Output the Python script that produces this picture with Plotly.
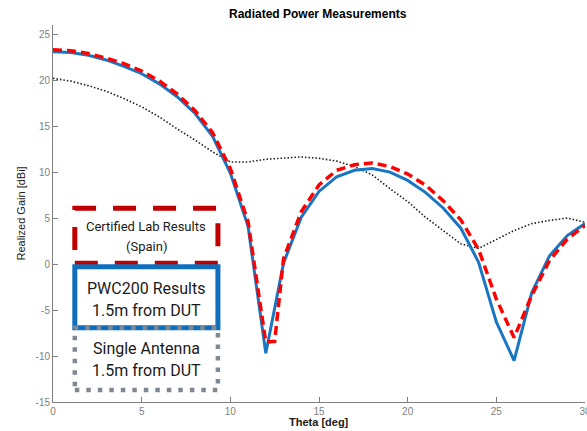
import plotly.graph_objects as go

# ---- data ----
theta_lab = [0, 1, 2, 3, 4, 5, 6, 7, 8, 9, 10, 11, 12, 12.5, 13, 14, 15, 16, 17, 18, 19, 20,
             21, 22, 23, 24, 25, 26, 27, 28, 29, 30]
gain_lab = [23.3, 23.2, 22.9, 22.4, 21.8, 21.0, 19.9, 18.5, 16.7, 14.3, 10.4, 4.6, -8.5, -8.4,
            0.6, 5.7, 8.6, 10.2, 10.8, 11.0, 10.6, 9.8, 8.6, 6.9, 4.8, 1.6, -3.8, -8.0,
            -3.4, 0.4, 2.7, 4.2]

theta_pwc = list(range(0, 31))
gain_pwc = [23.1, 23.0, 22.7, 22.2, 21.5, 20.7, 19.6, 18.2, 16.4, 13.9, 9.9, 4.1, -9.7,
            0.1, 5.1, 7.9, 9.5, 10.2, 10.4, 10.0, 9.1, 7.8, 6.1, 3.9, 0.2, -6.3, -10.5,
            -3.1, 0.9, 3.1, 4.4]

theta_single = list(range(0, 31))
gain_single = [20.2, 19.9, 19.4, 18.8, 18.0, 17.1, 16.0, 14.7, 13.5, 12.2, 11.1, 11.1, 11.4,
               11.55, 11.65, 11.5, 11.2, 10.6, 9.7, 8.2, 6.8, 5.1, 3.65, 2.2, 1.7, 2.7,
               3.65, 4.4, 4.75, 5.0, 4.55]

x_ticks = [0, 5, 10, 15, 20, 25, 30]
y_ticks = [-15, -10, -5, 0, 5, 10, 15, 20, 25]

title = "Radiated Power Measurements"
x_title = "Theta [deg]"
y_title = "Realized Gain [dBi]"

box_lab = ["Certified Lab Results", "(Spain)"]
box_pwc = ["PWC200 Results", "1.5m from DUT"]
box_single = ["Single Antenna", "1.5m from DUT"]

FONT = "Liberation Sans, Arial, sans-serif"
NARROW = "Liberation Sans Narrow, Arial Narrow, Roboto, sans-serif"
AX = "#808080"

fig = go.Figure()
fig.add_trace(go.Scatter(x=theta_single, y=gain_single, mode="lines",
                         line=dict(color="#202020", width=1.6, dash="1.5px,2px"),
                         showlegend=False))
fig.add_trace(go.Scatter(x=theta_pwc, y=gain_pwc, mode="lines",
                         line=dict(color="#1a76c2", width=3),
                         showlegend=False))
fig.add_trace(go.Scatter(x=theta_lab, y=gain_lab, mode="lines",
                         line=dict(color="#ff0000", width=3.5, dash="9px,5px"),
                         showlegend=False))

# legend-like boxes (paper coords)
shapes = [
    dict(type="rect", xref="paper", yref="paper", x0=0.041, x1=0.310, y0=0.368, y1=0.514,
         line=dict(color="#c00000", width=5, dash="23px,17px"), layer="above"),
    dict(type="rect", xref="paper", yref="paper", x0=0.041, x1=0.310, y0=0.197, y1=0.359,
         line=dict(color="#0f6fbd", width=5), layer="above", fillcolor="rgba(0,0,0,0)"),
    dict(type="rect", xref="paper", yref="paper", x0=0.041, x1=0.310, y0=0.032, y1=0.197,
         line=dict(color="#7f8993", width=4.5, dash="4.5px,7px"), layer="above"),
]

annos = []
def add_text(txt, y, size):
    annos.append(dict(text=txt, x=0.175, y=y, xref="paper", yref="paper",
                      showarrow=False, xanchor="center", yanchor="middle",
                      font=dict(family=NARROW, size=size, color="#1a1a1a")))

add_text(box_lab[0], 0.465, 13)
add_text(box_lab[1], 0.412, 13)
add_text(box_pwc[0], 0.302, 16)
add_text(box_pwc[1], 0.244, 16)
add_text(box_single[0], 0.143, 16)
add_text(box_single[1], 0.083, 16)

# titles as annotations
annos.append(dict(text="<b>" + title + "</b>", x=0.498, y=1.0, xref="paper", yref="paper",
                  yshift=11, showarrow=False, xanchor="center", yanchor="middle",
                  font=dict(family=FONT, size=12, color="#000000")))
annos.append(dict(text="<b>" + x_title + "</b>", x=0.5, y=0.0, xref="paper", yref="paper",
                  yshift=-20, showarrow=False, xanchor="center", yanchor="middle",
                  font=dict(family=FONT, size=11, color="#1a1a1a")))
annos.append(dict(text=y_title, x=0.0, y=0.5, xref="paper", yref="paper", textangle=-90,
                  xshift=-33, showarrow=False, xanchor="center", yanchor="middle",
                  font=dict(family=FONT, size=11, color="#1a1a1a")))

fig.update_layout(
    width=587, height=431,
    margin=dict(l=53, r=2, t=25, b=29),
    paper_bgcolor="white", plot_bgcolor="white",
    shapes=shapes, annotations=annos,
    xaxis=dict(range=[0, 30], tickvals=x_ticks, ticktext=[str(v) for v in x_ticks],
               showgrid=False, zeroline=False, showline=True, linecolor=AX, linewidth=1,
               ticks="inside", ticklen=5, tickcolor=AX, automargin=False,
               ticklabeloverflow="allow",
               tickfont=dict(family=FONT, size=10, color=AX)),
    yaxis=dict(range=[-15, 26], tickvals=y_ticks, ticktext=[str(v) for v in y_ticks],
               showgrid=False, zeroline=False, showline=True, linecolor=AX, linewidth=1,
               ticks="inside", ticklen=5, tickcolor=AX, automargin=False,
               ticklabeloverflow="allow",
               tickfont=dict(family=FONT, size=10, color=AX)),
)

fig.write_html("out.html", config={"displayModeBar": False},
               post_script="document.body.style.margin='0';document.body.style.overflow='hidden';")
